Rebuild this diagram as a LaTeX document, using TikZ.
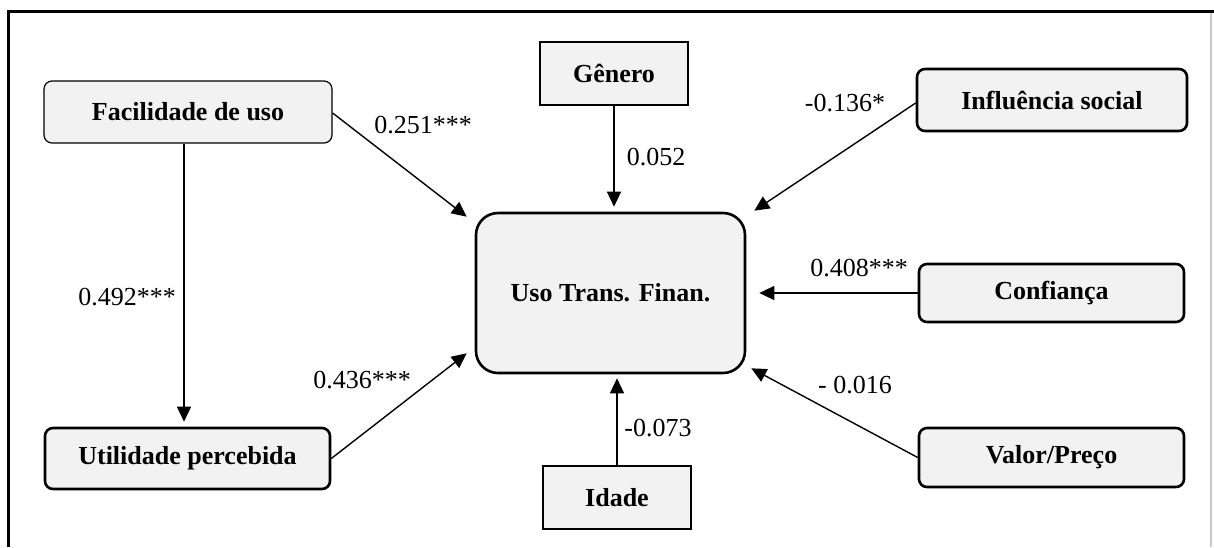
\documentclass[tikz,border=0pt]{standalone}
\usepackage{fontspec}
\setmainfont{Liberation Serif}
\usetikzlibrary{arrows.meta,calc}
\definecolor{boxfill}{HTML}{F2F2F2}
\definecolor{framegray}{HTML}{C8C8C8}
\tikzset{
  varbox/.style={draw=black, fill=boxfill, line width=2.6pt, rounded corners=8pt,
    font=\fontsize{26}{30}\selectfont\bfseries, inner sep=0pt},
  thinbox/.style={varbox, line width=1.2pt},
  sqbox/.style={varbox, rounded corners=0pt},
  bigbox/.style={varbox, rounded corners=22pt},
  path/.style={line width=1.4pt, -{Triangle[length=15pt,width=14pt]}},
  coef/.style={font=\fontsize{26}{30}\selectfont, inner sep=0pt}
}
\begin{document}
\begin{tikzpicture}[x=1pt,y=-1pt]
\useasboundingbox (0,0) rectangle (1214,547);
% frame
\draw[line width=3pt] (8,547) -- (8,11) -- (1214,11);
\draw[framegray, line width=1.2pt] (1211,12.5) -- (1211,547);

% nodes
\node[thinbox, minimum width=288pt, minimum height=62pt] (fac) at (188,112) {Facilidade de uso};
\node[varbox, minimum width=285pt, minimum height=61pt] (util) at (187.5,458.5) {Utilidade percebida};
\node[sqbox, minimum width=148pt, minimum height=63pt] (gen) at (614,73.5) {Gênero};
\node[bigbox, minimum width=269pt, minimum height=160pt] (uso) at (610.5,293) {Uso Trans. Finan.};
\node[sqbox, minimum width=148pt, minimum height=63pt] (idade) at (617,497.5) {Idade};
\node[varbox, minimum width=270pt, minimum height=62pt] (infl) at (1052,100) {Influência social};
\node[varbox, minimum width=265pt, minimum height=58pt] (conf) at (1051.5,293) {Confiança};
\node[varbox, minimum width=265pt, minimum height=59pt] (valor) at (1051.5,457.5) {Valor/Preço};

% tip coordinates near the central box
\coordinate (tfac) at ($(uso.north west)+(-8,5)$);
\coordinate (tutil) at ($(uso.south west)+(-8,-21)$);
\coordinate (tinfl) at ($(uso.north east)+(8,-1)$);
\coordinate (tconf) at ($(uso.east)+(13,0)$);
\coordinate (tvalor) at ($(uso.south east)+(5,-6)$);

% connectors
\draw[path] ($(fac.east)+(0,1)$) -- (tfac);
\draw[path] (util.east) -- (tutil);
\draw[path] ($(infl.west)+(0,3)$) -- (tinfl);
\draw[path] (conf.west) -- (tconf);
\draw[path] (valor.west) -- (tvalor);
\draw[path, shorten >=5pt] (gen.south) -- (gen.south |- uso.north);
\draw[path, shorten >=4pt] (idade.north) -- (idade.north |- uso.south);
\draw[path, shorten >=5pt] ($(fac.south)+(-4,0)$) -- ($(util.north)+(-3.5,0)$);

% coefficients
\node[coef] (l1) at (423,125) {0.251***};
\node[coef] (l2) at (127,297) {0.492***};
\node[coef] (l3) at (362,380) {0.436***};
\node[coef] (l4) at (656,157) {0.052};
\node[coef] (l5) at (658,428) {-0.073};
\node[coef] (l6) at (845,103) {-0.136*};
\node[coef] (l7) at (859,268) {0.408***};
\node[coef] (l8) at (855,385) {- 0.016};
\end{tikzpicture}
\end{document}
